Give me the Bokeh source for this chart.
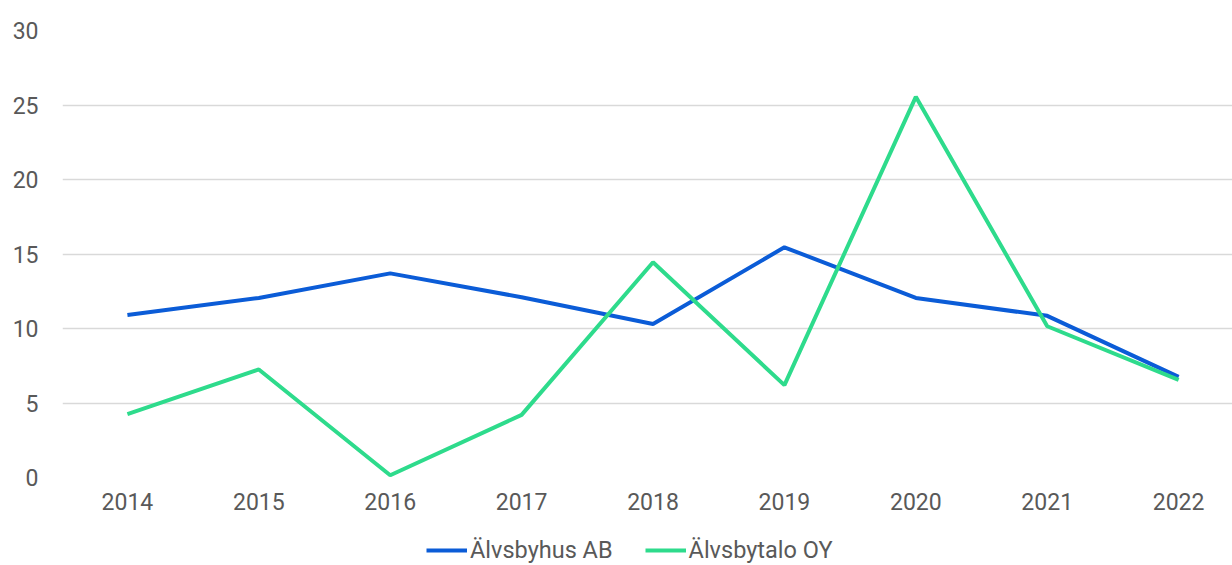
from bokeh.plotting import figure
from bokeh.models import Range1d, Legend, LegendItem, FixedTicker
from bokeh.layouts import column
from bokeh.embed import file_html
from bokeh.resources import INLINE

years = [2014, 2015, 2016, 2017, 2018, 2019, 2020, 2021, 2022]
alvsbyhus_ab = [10.9, 12.05, 13.7, 12.1, 10.3, 15.45, 12.05, 10.85, 6.75]
alvsbytalo_oy = [4.25, 7.25, 0.15, 4.2, 14.45, 6.2, 25.55, 10.15, 6.55]
series_names = ["Älvsbyhus AB", "Älvsbytalo OY"]
y_ticks = [0, 5, 10, 15, 20, 25, 30]

FONT = "Roboto"
TXT = "#595959"
BLUE = "#0B5CD7"
GREEN = "#2EDB8C"
LW = 4

p = figure(frame_width=1170, frame_height=447, output_backend="svg", toolbar_location=None,
           x_range=Range1d(2013.506, 2022.41), y_range=Range1d(0, 30),
           min_border_left=62, min_border_right=0, min_border_top=30, min_border_bottom=48)
p.outline_line_color = None
p.background_fill_color = "white"

p.line(years, alvsbyhus_ab, line_color=BLUE, line_width=LW)
p.line(years, alvsbytalo_oy, line_color=GREEN, line_width=LW)

p.xgrid.visible = False
p.ygrid.grid_line_color = "#d9d9d9"
p.ygrid.grid_line_width = 1.3
p.ygrid.ticker = FixedTicker(ticks=y_ticks)

p.yaxis.ticker = FixedTicker(ticks=y_ticks)
p.xaxis.ticker = FixedTicker(ticks=years)
for ax in (p.xaxis, p.yaxis):
    ax.axis_line_color = None
    ax.major_tick_line_color = None
    ax.minor_tick_line_color = None
    ax.major_tick_out = 0
    ax.minor_tick_out = 0
    ax.major_label_text_font = FONT
    ax.major_label_text_font_size = "23px"
    ax.major_label_text_color = TXT
p.yaxis.major_label_standoff = 24
p.xaxis.major_label_standoff = 15

# legend row below the chart (series drawn outside its visible range, only legend shows)
lg = figure(width=1232, height=40, output_backend="svg", toolbar_location=None,
            x_range=Range1d(0, 1), y_range=Range1d(0, 1),
            x_axis_type=None, y_axis_type=None,
            min_border_left=0, min_border_right=0, min_border_top=0, min_border_bottom=0)
lg.outline_line_color = None
lg.xgrid.visible = False
lg.ygrid.visible = False
l1 = lg.line(years, alvsbyhus_ab, line_color=BLUE, line_width=LW)
l2 = lg.line(years, alvsbytalo_oy, line_color=GREEN, line_width=LW)

legend = Legend(items=[LegendItem(label=series_names[0], renderers=[l1]),
                       LegendItem(label=series_names[1], renderers=[l2])],
                orientation="horizontal", location=(364, 1),
                label_text_font=FONT, label_text_font_size="23.5px", label_text_color=TXT,
                glyph_width=41, glyph_height=20, label_standoff=3, spacing=32,
                border_line_color=None, background_fill_alpha=0,
                padding=0, margin=0)
lg.add_layout(legend, "center")

layout = column(p, lg, spacing=0)
open("out.html", "w").write(file_html(layout, INLINE))
